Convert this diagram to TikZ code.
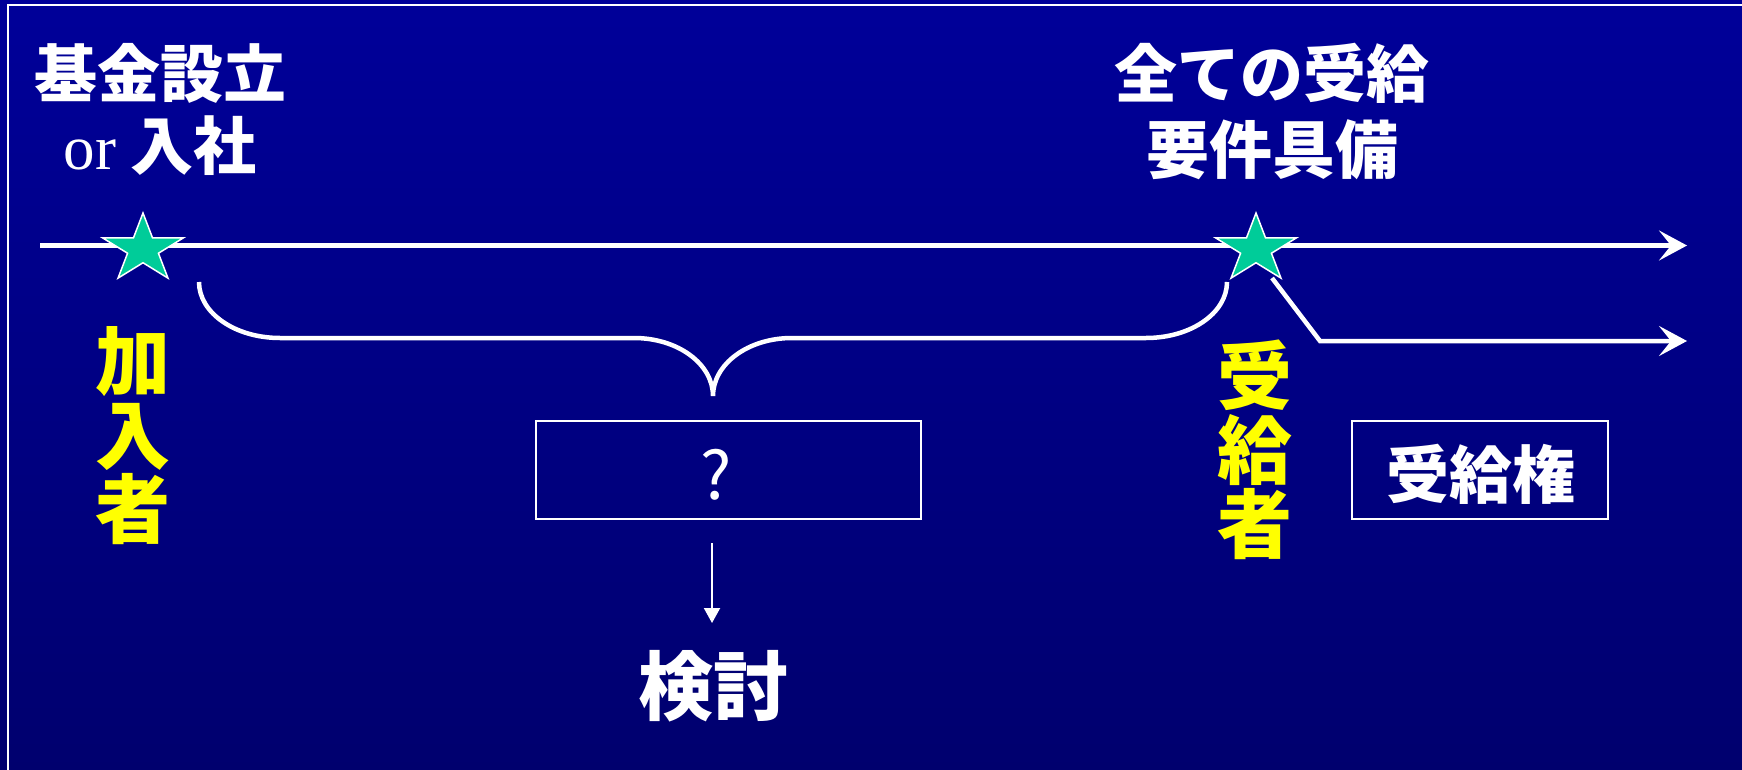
\documentclass[tikz,border=0pt]{standalone}
\usepackage{fontspec}
\usetikzlibrary{shapes.geometric,arrows.meta}
\newfontfamily\jp{Noto Sans CJK JP}
\newfontfamily\tms{Liberation Serif}
\definecolor{bgtop}{RGB}{0,0,153}
\definecolor{bgbot}{RGB}{0,0,110}
\definecolor{starfill}{RGB}{0,204,153}
\definecolor{ylw}{RGB}{255,255,0}
\tikzset{
  lbl/.style={text=white, inner sep=0pt, font=\jp\bfseries\fontsize{63}{73}\selectfont},
  vlbl/.style={text=ylw, inner sep=0pt, align=center, font=\jp\bfseries\fontsize{75}{74}\selectfont},
  starnode/.style={star, star points=5, star point ratio=2.618, minimum size=72pt, inner sep=0pt,
    fill=starfill, draw=white, line width=1.5pt, xscale=1.18, transform shape},
  mainarrow/.style={white, line width=5.5pt, -{Stealth[length=28pt,width=30pt,inset=12pt]}},
  sidearrow/.style={white, line width=4.5pt, -{Stealth[length=28pt,width=30pt,inset=12pt]}},
  bracel/.style={white, line width=4.5pt},
  boxnode/.style={draw=white, line width=2pt, inner sep=0pt},
  thinarrow/.style={white, line width=2pt, -{Triangle[length=15pt,width=16pt]}}
}
\begin{document}
\begin{tikzpicture}[x=1pt,y=-1pt]
\useasboundingbox (0,0) rectangle (1742,770);
\shade[top color=bgtop, middle color=bgtop, bottom color=bgbot] (0,0) rectangle (1742,770);
\draw[white, line width=2pt] (7.5,770) -- (7.5,5.5) -- (1742,5.5);

% top labels
\node[lbl] (t1) at (160,73) {基金設立};
\node[lbl] (t2) at (160,146) {{\tms\mdseries or} 入社};
\node[lbl] (t3) at (1272,73) {全ての受給};
\node[lbl] (t4) at (1272,150) {要件具備};

% timeline
\coordinate (L0) at (40,245.5);
\coordinate (L1) at (1687,245.5);
\draw[mainarrow] (L0) -- (L1);

\coordinate (b0) at (1272,278);
\coordinate (b1) at (1320,341);
\coordinate (b2) at (1687,341);
\draw[sidearrow] (b0) -- (b1) -- (b2);

\node[starnode] (s1) at (143,249) {};
\node[starnode] (s2) at (1256,249) {};

% brace
\coordinate (br0) at (199,282);
\coordinate (br1) at (280,338);
\coordinate (br2) at (634,338);
\coordinate (brm) at (713,396);
\coordinate (br3) at (792,338);
\coordinate (br4) at (1146,338);
\coordinate (br5) at (1227,282);
\draw[bracel] (br0) .. controls (199,313) and (235,338) .. (br1) -- (br2)
  .. controls (678,338) and (713,364) .. (brm)
  .. controls (713,364) and (748,338) .. (br3) -- (br4)
  .. controls (1191,338) and (1227,313) .. (br5);

% vertical labels
\node[vlbl] (v1) at (133,436) {加\\入\\者};
\node[vlbl] (v2) at (1255,450) {受\\給\\者};

% boxes
\node[boxnode, minimum width=385pt, minimum height=98pt] (q) at (728.5,470) {};
\node[lbl, font=\jp\fontsize{66}{66}\selectfont] (qm) at (716,475) {?};
\node[boxnode, minimum width=256pt, minimum height=98pt] (r) at (1480,470) {};
\node[lbl] (rt) at (1481,474) {受給権};

\coordinate (a0) at (712,543);
\coordinate (a1) at (712,623);
\draw[thinarrow] (a0) -- (a1);
\node[lbl, font=\jp\bfseries\fontsize{75}{75}\selectfont] (k) at (713,686) {検討};
\end{tikzpicture}
\end{document}
